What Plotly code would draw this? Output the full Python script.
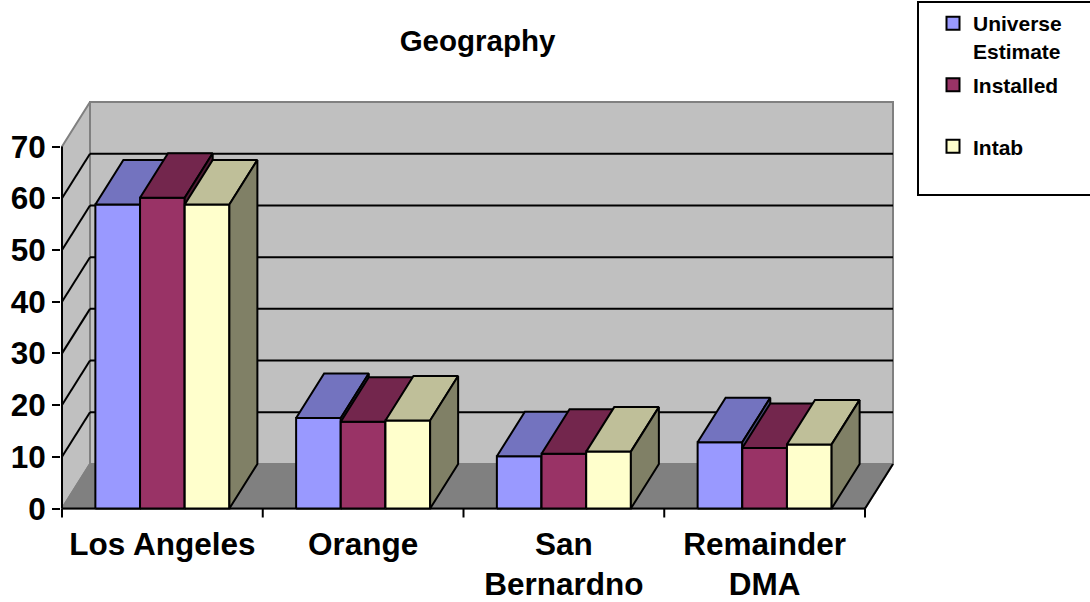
import plotly.graph_objects as go

# ---- data ----
categories = ["Los Angeles", "Orange", "San Bernardno", "Remainder DMA"]
tick_labels = ["Los Angeles", "Orange", "San<br>Bernardno", "Remainder<br>DMA"]
series_names = ["Universe\u00a0\u00a0\u00a0\u00a0<br>Estimate", "Installed<br>\u00a0", "Intab<br>\u00a0"]
universe_estimate = [58.8, 17.5, 10.1, 12.8]
installed = [60.1, 16.8, 10.6, 11.7]
intab = [58.8, 17.0, 11.0, 12.4]
y_ticks = [0, 10, 20, 30, 40, 50, 60, 70]

series_values = [universe_estimate, installed, intab]

# ---- styling ----
front_colors = ["#9999FF", "#993366", "#FFFFCC"]
top_colors = ["#7373BF", "#73264D", "#BFBF99"]
side_colors = ["#4D4D80", "#4D1A33", "#808066"]
wall_color = "#C0C0C0"
floor_color = "#808080"
edge_gray = "#808080"
FONT = "Liberation Sans, Arial, sans-serif"

W, H = 1090, 602
PX_CAT = 200.75          # horizontal pixels per category slot
PX_UNIT = 5.171          # vertical pixels per value unit
X0_PX, Y0_PX = 62, 508.5  # pixel spot of the front-left floor corner
plot_left, plot_right, plot_top, plot_bottom = 61, 905, 95, 522

depth_dx = 28 / PX_CAT    # oblique depth offset, x in category units
depth_dy = 44.5 / PX_UNIT  # oblique depth offset, y in value units
wall_top = y_ticks[-1]
bar_w = 0.2225
group_w = bar_w * len(series_values)

x_range = [-0.5 + (plot_left - X0_PX) / PX_CAT, -0.5 + (plot_right - X0_PX) / PX_CAT]
y_range = [(Y0_PX - plot_bottom) / PX_UNIT, (Y0_PX - plot_top) / PX_UNIT]

xa, xb = -0.5, len(categories) - 0.5
dx, dy = depth_dx, depth_dy


def poly(xs, ys, fill, line_color="black", width=2):
    return go.Scatter(
        x=list(xs) + [xs[0]], y=list(ys) + [ys[0]],
        mode="lines", fill="toself", fillcolor=fill,
        line=dict(color=line_color, width=width),
        hoverinfo="skip", showlegend=False,
    )


def segments(pairs, color="black", width=2):
    xs, ys = [], []
    for (x1, y1), (x2, y2) in pairs:
        xs += [x1, x2, None]
        ys += [y1, y2, None]
    return go.Scatter(x=xs, y=ys, mode="lines", line=dict(color=color, width=width),
                      hoverinfo="skip", showlegend=False)


fig = go.Figure()

# back wall, left wall, floor
fig.add_trace(poly([xa + dx, xb + dx, xb + dx, xa + dx],
                   [dy, dy, wall_top + dy, wall_top + dy], wall_color, edge_gray))
fig.add_trace(poly([xa, xa + dx, xa + dx, xa],
                   [0, dy, wall_top + dy, wall_top], wall_color, edge_gray))
fig.add_trace(poly([xa, xb, xb + dx, xa + dx], [0, 0, dy, dy], floor_color, edge_gray))

# gridlines on the back and side walls
grid = []
for v in y_ticks[1:-1]:
    grid.append(((xa + dx, v + dy), (xb + dx, v + dy)))
    grid.append(((xa, v), (xa + dx, v + dy)))
fig.add_trace(segments(grid))

# front edges of the frame plus category tick marks
tick_drop = 9 / PX_UNIT
frame = [((xa, 0), (xa, wall_top)), ((xa, 0), (xb, 0)), ((xb, 0), (xb + dx, dy))]
for k in range(len(categories) + 1):
    frame.append(((xa + k, 0), (xa + k, -tick_drop)))
fig.add_trace(segments(frame))

# 3-D columns: front, top and side faces
for i in range(len(categories)):
    for j, vals in enumerate(series_values):
        v = vals[i]
        xl = i - group_w / 2 + j * bar_w
        xr = xl + bar_w
        fig.add_trace(poly([xl, xr, xr, xl], [0, 0, v, v], front_colors[j]))
        fig.add_trace(poly([xl, xr, xr + dx, xl + dx], [v, v, v + dy, v + dy], top_colors[j]))
        fig.add_trace(poly([xr, xr + dx, xr + dx, xr], [0, dy, v + dy, v], side_colors[j]))

# legend entries
for j, name in enumerate(series_names):
    fig.add_trace(go.Scatter(
        x=[None], y=[None], mode="markers", name=name, legendgroup=f"s{j}",
        marker=dict(symbol="square", size=13, color=front_colors[j],
                    line=dict(color="black", width=2)),
    ))

fig.update_layout(
    width=W, height=H,
    margin=dict(l=plot_left, r=W - plot_right, t=plot_top, b=H - plot_bottom, pad=0,
                autoexpand=False),
    paper_bgcolor="white", plot_bgcolor="white",
    font=dict(family=FONT, color="black"),
    title=dict(text="Geography", xref="container", yref="container",
               x=477.5 / W, y=1 - 41 / H, xanchor="center", yanchor="middle",
               font=dict(size=29.5, weight="bold", color="black")),
    xaxis=dict(range=x_range, showgrid=False, zeroline=False, showline=False,
               automargin=False,
               tickvals=list(range(len(categories))), ticktext=tick_labels,
               ticks="", tickfont=dict(size=31.5, weight="bold"), fixedrange=True),
    yaxis=dict(range=y_range, showgrid=False, zeroline=False, showline=False,
               automargin=False,
               tickvals=y_ticks, ticks="outside", ticklen=8, tickwidth=2, tickcolor="black",
               tickfont=dict(size=31.5, weight="bold"), fixedrange=True),
    legend=dict(xref="container", yref="container", x=917 / W, y=1 - 1 / H,
                xanchor="left", yanchor="top", bordercolor="black", borderwidth=2,
                bgcolor="white", font=dict(size=21, weight="bold"), valign="top",
                tracegroupgap=4, traceorder="grouped", indentation=14),
    showlegend=True,
)

fig.write_html("out.html")
